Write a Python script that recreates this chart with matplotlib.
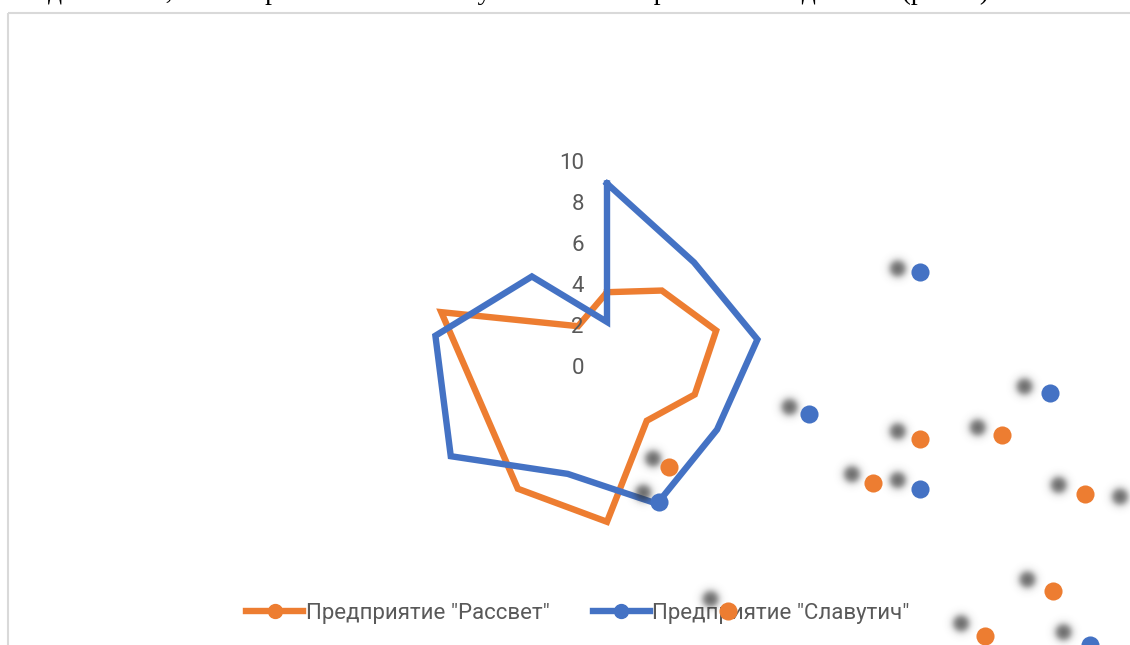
import numpy as np
import matplotlib
matplotlib.use("Agg")
import matplotlib.pyplot as plt
from matplotlib.lines import Line2D
from matplotlib.patches import Rectangle
from matplotlib.transforms import offset_copy

W, H = 1130, 645
ORANGE = "#ED7D31"
BLUE = "#4472C4"
GREY = "#595959"

labels = ['Предприятие "Рассвет"', 'Предприятие "Славутич"']
caption = "динамики, можно рассчитать итоговую степень их развития по данным (рис. 2)"

# radar values, one per spoke
rassvet = [3.6, 4.55, 5.6, 4.5, 3.3, 7.6, 7.4, 6.4, 8.5, 2.4]
slavutich = [8.9, 6.6, 7.45, 6.2, 7.15, 5.6, 8.8, 8.5, 5.7, 2.15]
rassvet_step = 36    # degrees between spokes
slavutich_step = 40
r_ticks = [0, 2, 4, 6, 8, 10]

# loose series markers (pixel positions on the sheet)
rassvet_mx = [669, 920, 873, 1002, 1085, 1148, 1053, 985, 728]
rassvet_my = [467, 439, 483, 435, 494, 506, 591, 636, 611]
slavutich_mx = [920, 1050, 809, 920, 1090, 659]
slavutich_my = [272, 393, 414, 489, 645, 502]


def closed(vals, step):
    th = np.deg2rad(np.arange(len(vals)) * step)
    return np.append(th, th[0]), np.append(vals, vals[0])


fig = plt.figure(figsize=(W / 100, H / 100), dpi=100)

# page background: frame + caption line above it
bg = fig.add_axes([0, 0, 1, 1], zorder=0)
bg.set_xlim(0, W)
bg.set_ylim(H, 0)
bg.axis("off")
bg.add_patch(Rectangle((8, 13), W, H, fill=False, ec="#d9d9d9", lw=1.5))
fig.text(48 / W, 1 + 1.0 / H, caption, family="Liberation Serif", size=20,
         color="black", ha="left", va="baseline")

# radar
cx, cy, rad = 607, 366, 205
ax = fig.add_axes([(cx - rad) / W, (H - cy - rad) / H, 2 * rad / W, 2 * rad / H],
                  projection="polar", zorder=2)
ax.set_theta_zero_location("N")
ax.set_theta_direction(-1)
ax.set_ylim(0, 10)
ax.grid(False)
ax.set_xticks([])
ax.set_yticks([])
ax.spines["polar"].set_visible(False)
ax.patch.set_alpha(0)

for vals, step, col in [(rassvet, rassvet_step, ORANGE),
                        (slavutich, slavutich_step, BLUE)]:
    th, rr = closed(vals, step)
    ax.plot(th, rr, color=col, lw=4.6, clip_on=False, solid_joinstyle="miter")

lab_tr = offset_copy(ax.transData, fig=fig, x=-23, y=0, units="dots")
for v in r_ticks:
    ax.text(0, v, str(v), transform=lab_tr, ha="right", va="center_baseline",
            family="Roboto", size=16, color=GREY)

handles = [Line2D([], [], color=c, lw=4.6, marker="o", ms=10)
           for c in (ORANGE, BLUE)]
fig.legend(handles, labels, loc="center", bbox_to_anchor=(578 / W, 1 - 613 / H),
           ncol=2, frameon=False, handlelength=2.55, handletextpad=0.12,
           columnspacing=1.95, labelcolor=GREY,
           prop={"family": "Roboto", "size": 16})

# loose markers with their soft shadows, on top of everything
top = fig.add_axes([0, 0, 1, 1], zorder=6)
ox, oy, k = 32, 132, 0.975
yy, xx = np.mgrid[0:H, 0:W] + 0.5
shade = np.zeros((H, W))
marks = []
for mx, my, col in [(rassvet_mx, rassvet_my, ORANGE),
                    (slavutich_mx, slavutich_my, BLUE)]:
    mx, my = np.array(mx, float), np.array(my, float)
    for sx, sy in zip(ox + k * (mx - ox), oy + k * (my - oy)):
        d = np.hypot(xx - sx, yy - sy)
        shade = np.maximum(shade, 0.72 / (1 + np.exp((d - 7.5) / 2.2)))
    marks.append((mx, my, col))

rgba = np.zeros((H, W, 4))
rgba[..., :3] = 0.2
rgba[..., 3] = shade
top.imshow(rgba, extent=(0, W, H, 0), interpolation="bilinear", zorder=1)
for mx, my, col in marks:
    top.scatter(mx, my, s=170, color=col, lw=0, clip_on=False, zorder=2)
top.set_aspect("auto")
top.set_xlim(0, W)
top.set_ylim(H, 0)
top.axis("off")

fig.savefig("out.png", dpi=100)
